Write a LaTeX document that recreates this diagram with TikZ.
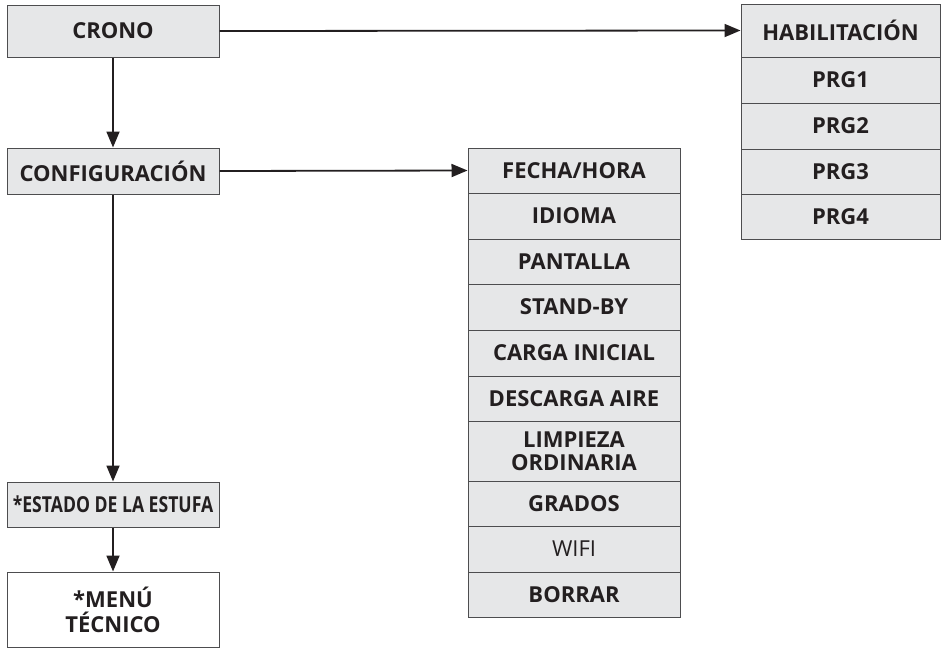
\documentclass[tikz,border=0pt]{standalone}
\usepackage{fontspec}
\setmainfont{Open Sans}
\usetikzlibrary{arrows.meta}
\definecolor{boxfill}{HTML}{E6E7E8}
\definecolor{boxline}{HTML}{4D4D4F}
\definecolor{ink}{HTML}{231F20}
\tikzset{
  mbox/.style={draw=boxline, line width=1pt, fill=boxfill, inner sep=0pt,
    text=ink, font=\fontsize{22}{24}\selectfont\bfseries, align=center},
  lbox/.style={mbox, minimum width=212pt},
  rbox/.style={mbox, minimum width=199pt},
  conn/.style={draw=ink, line width=1.8pt, -{Triangle[length=16pt,width=13pt]}}
}
\begin{document}
\begin{tikzpicture}[x=1pt,y=-1pt]
\useasboundingbox (0,0) rectangle (941,648);
% left column
\node[lbox, minimum height=52pt] (crono) at (113,31) {CRONO};
\node[lbox, minimum height=46pt] (config) at (113,171) {CONFIGURACIÓN};
\node[lbox, minimum height=45pt] (estado) at (113,504.5) {\scalebox{0.8}[1]{*ESTADO DE LA ESTUFA}};
\node[lbox, minimum height=75pt, fill=white, font=\fontsize{22}{25}\selectfont\bfseries] (menu) at (113,609.5) {*MENÚ\\TÉCNICO};
% middle column
\node[lbox, minimum height=45pt] (fecha) at (574,170.5) {FECHA/HORA};
\node[lbox, minimum height=46pt] (idioma) at (574,216) {IDIOMA};
\node[lbox, minimum height=45pt] (pantalla) at (574,261.5) {PANTALLA};
\node[lbox, minimum height=46pt] (standby) at (574,307) {STAND-BY};
\node[lbox, minimum height=46pt] (carga) at (574,353) {CARGA INICIAL};
\node[lbox, minimum height=45pt] (descarga) at (574,398.5) {DESCARGA AIRE};
\node[lbox, minimum height=60pt, font=\fontsize{22}{23}\selectfont\bfseries] (limpieza) at (574,451) {LIMPIEZA\\ORDINARIA};
\node[lbox, minimum height=45pt] (grados) at (574,503.5) {GRADOS};
\node[lbox, minimum height=46pt, font=\fontsize{22}{24}\selectfont] (wifi) at (574,549) {WIFI};
\node[lbox, minimum height=45pt] (borrar) at (574,594.5) {BORRAR};
% right column
\node[rbox, minimum height=53pt] (hab) at (840.5,30.5) {HABILITACIÓN};
\node[rbox, minimum height=46pt] (prg1) at (840.5,80) {PRG1};
\node[rbox, minimum height=46pt] (prg2) at (840.5,126) {PRG2};
\node[rbox, minimum height=45pt] (prg3) at (840.5,171.5) {PRG3};
\node[rbox, minimum height=45pt] (prg4) at (840.5,216.5) {PRG4};
% connectors
\draw[conn] (crono) -- (config);
\draw[conn] (config) -- (estado);
\draw[conn] (estado) -- (menu);
\draw[conn] (crono.east) -- (hab.west);
\draw[conn] (config.east) -- (fecha.west);
\end{tikzpicture}
\end{document}
